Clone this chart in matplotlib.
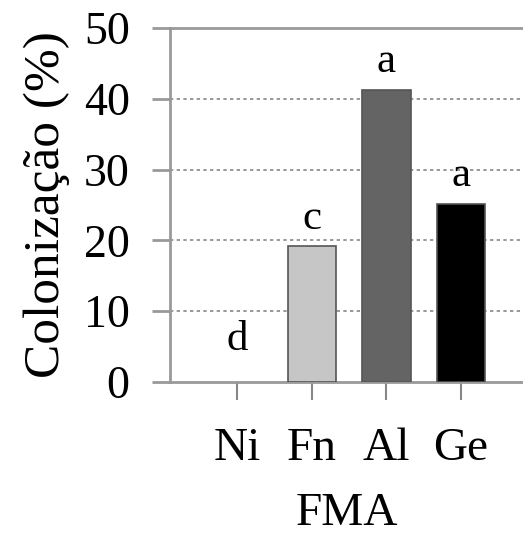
import numpy as np
import matplotlib.pyplot as plt

plt.rcParams['font.family'] = ['Liberation Serif', 'DejaVu Serif']

categories = ["Ni", "Fn", "Al", "Ge"]
values = [0.0, 19.2, 41.3, 25.2]
letters = ["d", "c", "a", "a"]
colors = ["white", "#c6c6c6", "#646464", "#000000"]

fig = plt.figure(figsize=(5.23, 5.38), dpi=100)
ax = fig.add_axes([0.325, 0.29, 0.675, 0.658])

x = np.arange(len(categories))
bars = ax.bar(x, values, width=0.65, color=colors, edgecolor="#555555", linewidth=1.2, zorder=3)
for b, v in zip(bars, values):
    if v == 0:
        b.set_linewidth(0)

for xi, v, t in zip(x, values, letters):
    ax.annotate(t, (xi, max(v, 2.0)), xytext=(0, 6), textcoords="offset points",
                ha="center", va="bottom", fontsize=31)

ax.set_xlim(-0.9, 3.83)
ax.set_ylim(0, 50)
ax.set_yticks([0, 10, 20, 30, 40, 50])
ax.set_xticks(x)
ax.set_xticklabels(categories)

for gy in [10, 20, 30, 40]:
    ax.axhline(gy, color="#888888", linestyle=(0, (2, 2)), linewidth=1.2, zorder=1)

for s in ["left", "bottom", "top"]:
    ax.spines[s].set_color("#999999")
    ax.spines[s].set_linewidth(2)
ax.spines["right"].set_visible(False)

ax.tick_params(axis="y", length=13, width=2, color="#999999", pad=16, labelsize=33)
ax.tick_params(axis="x", length=13, width=1.5, color="#888888", pad=20, labelsize=34)

ax.set_xlabel("FMA", fontsize=34, labelpad=16)
ax.set_ylabel("Colonização (%)", fontsize=37, labelpad=10)

fig.savefig("out.png", dpi=100)
